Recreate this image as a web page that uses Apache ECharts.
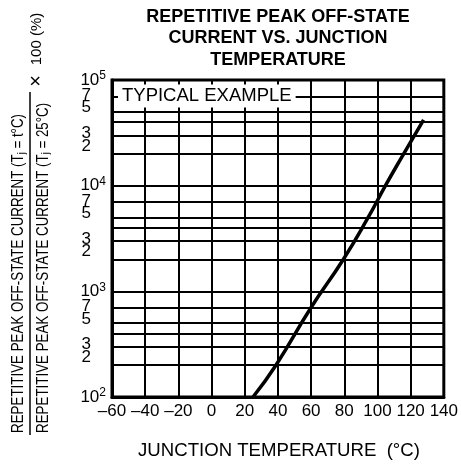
<!DOCTYPE html>
<html>

<head>
    <meta charset="utf-8">
    <script src="https://cdn.jsdelivr.net/npm/echarts@6/dist/echarts.min.js"></script>
    <style>
        html, body { margin: 0; padding: 0; background: #fff; }
        #main { width: 461px; height: 466px; }
    </style>
</head>

<body>
    <div id="main"></div>
    <script type="text/javascript">

        // values
        var temps = [25, 38.8, 59.9, 79.4, 94.4, 104.8, 115.8, 127.8];
        var ratios = [100, 200, 700, 2000, 5000, 10000, 20000, 42000];
        var xTicks = [-60, -40, -20, 0, 20, 40, 60, 80, 100, 120, 140];
        var decades = [100, 1000, 10000];
        var minorSteps = [2, 3, 4, 5, 7];
        var minorLabels = { 2: '2', 3: '3', 4: '', 5: '5', 7: '7' };

        var FONT = '"Liberation Sans", Arial, Helvetica, sans-serif';
        // small nudges so the stacked digits sit like the printed ones
        var labelNudge = { 2: -8, 3: -2, 4: 0, 5: -4, 7: -1 };

        var minorLines = [];
        decades.forEach(function (d) {
            minorSteps.forEach(function (m) {
                minorLines.push({
                    yAxis: m * d,
                    label: { formatter: minorLabels[m], offset: [0, labelNudge[m]] }
                });
            });
        });

        var chart = echarts.init(document.getElementById('main'), null, { renderer: 'canvas' });

        var option = {
            animation: false,
            backgroundColor: '#fff',
            grid: {
                left: 112, right: 16, top: 80, bottom: 69,
                show: true, borderColor: '#000', borderWidth: 3
            },
            xAxis: {
                type: 'value',
                min: xTicks[0],
                max: xTicks[xTicks.length - 1],
                interval: 20,
                axisLine: { show: true, onZero: false, lineStyle: { color: '#000', width: 3 } },
                axisTick: { show: false },
                splitLine: { show: true, lineStyle: { color: '#000', width: 2 } },
                axisLabel: {
                    color: '#000', fontFamily: FONT, fontSize: 17, margin: 6,
                    formatter: function (v) { return String(v).replace('-', '\u2013'); }
                }
            },
            yAxis: {
                type: 'log',
                logBase: 10,
                min: 100,
                max: 100000,
                axisLine: { show: true, onZero: false, lineStyle: { color: '#000', width: 3 } },
                axisTick: { show: false },
                splitLine: { show: true, lineStyle: { color: '#000', width: 2 } },
                axisLabel: {
                    margin: 6,
                    formatter: function (v) {
                        var e = Math.round(Math.log10(v));
                        return '{b|10}{s|' + e + '}';
                    },
                    rich: {
                        b: { color: '#000', fontFamily: FONT, fontSize: 17, lineHeight: 20 },
                        s: { color: '#000', fontFamily: FONT, fontSize: 12, lineHeight: 12, verticalAlign: 'top' }
                    }
                }
            },
            series: [{
                type: 'line',
                data: temps.map(function (t, i) { return [t, ratios[i]]; }),
                smooth: 0.5,
                showSymbol: false,
                lineStyle: { color: '#000', width: 3.5 },
                z: 5,
                markLine: {
                    silent: true,
                    symbol: ['none', 'none'],
                    lineStyle: { type: 'solid', color: '#000', width: 2 },
                    label: {
                        show: true, position: 'start', distance: 21,
                        color: '#000', fontFamily: FONT, fontSize: 17
                    },
                    emphasis: { disabled: true },
                    data: minorLines
                }
            }],
            graphic: [
                {
                    type: 'text', x: 278, y: 6, z: 100,
                    style: {
                        text: 'REPETITIVE PEAK OFF-STATE\nCURRENT VS. JUNCTION\nTEMPERATURE',
                        fontFamily: FONT, fontSize: 18, fontWeight: 'bold',
                        lineHeight: 21.5, align: 'center', verticalAlign: 'top', fill: '#000'
                    }
                },
                {
                    type: 'text', x: 279, y: 451, z: 100,
                    style: {
                        text: 'JUNCTION TEMPERATURE  (\u00b0C)',
                        fontFamily: FONT, fontSize: 18.6,
                        align: 'center', verticalAlign: 'middle', fill: '#000'
                    }
                },
                {
                    type: 'text', x: 118, y: 96, z: 100,
                    style: {
                        text: 'TYPICAL EXAMPLE',
                        fontFamily: FONT, fontSize: 18.5,
                        align: 'left', verticalAlign: 'middle', fill: '#000',
                        backgroundColor: '#fff', padding: [2, 4, 2, 4]
                    }
                },
                {
                    type: 'text', x: 18.5, y: 433, rotation: Math.PI / 2, scaleX: 0.81, z: 100,
                    style: {
                        text: 'REPETITIVE PEAK OFF-STATE CURRENT (T{j|j} = t\u00b0C)',
                        fontFamily: FONT, fontSize: 16.5,
                        align: 'left', verticalAlign: 'middle', fill: '#000',
                        rich: { j: { fontFamily: FONT, fontSize: 11, verticalAlign: 'bottom', fill: '#000' } }
                    }
                },
                {
                    type: 'line', z: 100,
                    shape: { x1: 30, y1: 92, x2: 30, y2: 435 },
                    style: { stroke: '#000', lineWidth: 1.5 }
                },
                {
                    type: 'text', x: 43, y: 433, rotation: Math.PI / 2, scaleX: 0.81, z: 100,
                    style: {
                        text: 'REPETITIVE PEAK OFF-STATE CURRENT (T{j|j} = 25\u00b0C)',
                        fontFamily: FONT, fontSize: 16.5,
                        align: 'left', verticalAlign: 'middle', fill: '#000',
                        rich: { j: { fontFamily: FONT, fontSize: 11, verticalAlign: 'bottom', fill: '#000' } }
                    }
                },
                {
                    type: 'text', x: 36, y: 81, rotation: Math.PI / 2, z: 100,
                    style: {
                        text: '\u00d7', fontFamily: FONT, fontSize: 20,
                        align: 'center', verticalAlign: 'middle', fill: '#000'
                    }
                },
                {
                    type: 'text', x: 37, y: 39, rotation: Math.PI / 2, z: 100,
                    style: {
                        text: '100 (%)', fontFamily: FONT, fontSize: 15,
                        align: 'center', verticalAlign: 'middle', fill: '#000'
                    }
                }
            ]
        };

        chart.setOption(option);
    </script>
</body>

</html>
